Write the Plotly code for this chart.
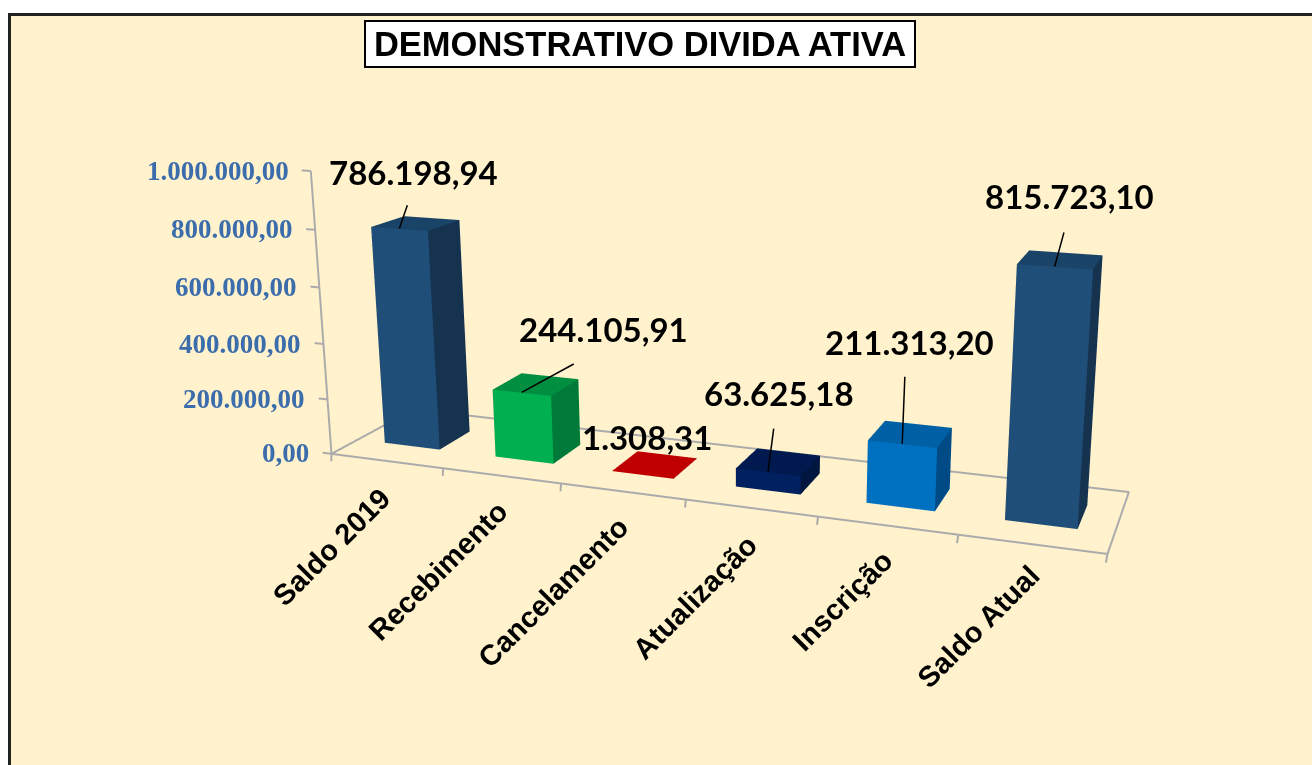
import plotly.graph_objects as go

categories = ["Saldo 2019", "Recebimento", "Cancelamento", "Atualização", "Inscrição", "Saldo Atual"]
values = [786198.94, 244105.91, 1308.31, 63625.18, 211313.20, 815723.10]
value_labels = ["786.198,94", "244.105,91", "1.308,31", "63.625,18", "211.313,20", "815.723,10"]
y_ticks = [0, 200000, 400000, 600000, 800000, 1000000]
y_tick_labels = ["0,00", "200.000,00", "400.000,00", "600.000,00", "800.000,00", "1.000.000,00"]

front_colors = ["#1F4E79", "#00B050", "#C00000", "#002060", "#0070C0", "#1F4E79"]
top_colors = ["#1A4368", "#008F41", "#C00000", "#001A50", "#0060A5", "#1A4368"]
side_colors = ["#15324F", "#007A38", "#8A0000", "#00163F", "#004B85", "#15324F"]

# text offsets in pixels, from each mark's anchor
label_shift = [(14, 57), (82, 63), (4, 37), (11, 79), (7, 102), (15, 70)]
leader = [(11, -32), (55, -30), None, (7, -53), (3, -77), (12, -44)]
cat_shift = [(13, -19), (15, -17), (15, -17), (15, -18), (14, -17), (16, -13)]

# view of the 3D scene
XR, YR, ZR = (-1.5, 7.5), (-0.5, 0.5), (-400000, 1500000)
F_PX, CX, CY = 660, 656, 420
EYE = dict(x=-0.01033, y=-1.21896, z=-0.02486)
CENTER = dict(x=-0.18965, y=-0.02371, z=-0.18553)
UP = dict(x=-0.11007, y=0.11618, z=0.98711)
ASPECT = dict(x=2.08437, y=0.14225, z=1)
BAR_W, BAR_D = 0.50176, 0.38987
SKEW_DEPTH_X, SKEW_DEPTH_Z, SKEW_VALUE_X = 0.38364, 0.15728, -0.24584
H = F_PX / 1.207
W = 2 * min(CX, 1312 - CX)


def zw(z, y):
    return z + SKEW_DEPTH_Z * 1e6 * (y + BAR_D / 2)


def xw(x, y, z=0):
    return x + SKEW_DEPTH_X * (y + 0.5) + SKEW_VALUE_X * z / 1e6


I = [0, 0, 4, 4, 0, 0, 1, 1, 2, 2, 3, 3]
J = [1, 2, 5, 6, 1, 5, 2, 6, 3, 7, 0, 4]
K = [2, 3, 6, 7, 5, 4, 6, 5, 7, 6, 4, 7]

fig = go.Figure()
for i, v in enumerate(values):
    x0, x1 = i - BAR_W / 2, i + BAR_W / 2
    y0, y1 = -BAR_D / 2, BAR_D / 2
    xs = [xw(x0, y0), xw(x1, y0), xw(x1, y1), xw(x0, y1)]
    xt = [xw(x0, y0, v), xw(x1, y0, v), xw(x1, y1, v), xw(x0, y1, v)]
    dz = zw(0, y1)
    fc = [top_colors[i]] * 4 + [front_colors[i]] * 2 + [side_colors[i]] * 2 + [top_colors[i]] * 2 + [side_colors[i]] * 2
    fig.add_trace(go.Mesh3d(x=xs + xt, y=[y0, y0, y1, y1] * 2, z=[0, 0, dz, dz, v, v, v + dz, v + dz],
                            i=I, j=J, k=K, facecolor=fc, flatshading=True, name=categories[i],
                            lighting=dict(ambient=1, diffuse=0, specular=0, roughness=1, fresnel=0), hoverinfo="skip"))

line = dict(color="#ABABAB", width=4)
fy = [-.5, -.5, .5, .5, -.5]
fx = [xw(-.5, -.5), xw(5.5, -.5), xw(5.5, .5), xw(-.5, .5), xw(-.5, -.5)]
fig.add_trace(go.Scatter3d(x=fx, y=fy, z=[zw(0, q) for q in fy], mode="lines", line=line, hoverinfo="skip"))
fig.add_trace(go.Scatter3d(x=[xw(-.5, -.5, 0), xw(-.5, -.5, y_ticks[-1])], y=[-.5, -.5],
                           z=[zw(0, -.5), zw(y_ticks[-1], -.5)], mode="lines", line=line, hoverinfo="skip"))
for t in y_ticks:
    fig.add_trace(go.Scatter3d(x=[xw(-.58, -.5, t), xw(-.5, -.5, t)], y=[-.5, -.5], z=[zw(t, -.5)] * 2,
                               mode="lines", line=line, hoverinfo="skip"))
for e in [i - .5 for i in range(len(categories) + 1)]:
    fig.add_trace(go.Scatter3d(x=[e, e], y=[-.5, -.5], z=[zw(0, -.5), zw(-28000, -.5)],
                               mode="lines", line=line, hoverinfo="skip"))

ann = []
for t, l in zip(y_ticks, y_tick_labels):
    ann.append(dict(x=xw(-.5, -.5, t), y=-.5, z=zw(t, -.5), text=f"<b>{l}</b>", showarrow=False,
                    xanchor="right", yanchor="middle", xshift=-20,
                    font=dict(family="Liberation Serif", size=27, color="#3B6CAB")))
for i, c in enumerate(categories):
    ann.append(dict(x=i, y=-.5, z=zw(0, -.5), text=f"<b>{c}</b>", showarrow=False, xanchor="right", yanchor="top",
                    xshift=cat_shift[i][0], yshift=cat_shift[i][1], textangle=-45,
                    font=dict(family="Liberation Sans", size=29, color="black")))
for i, (v, l) in enumerate(zip(values, value_labels)):
    xa = xw(i, -BAR_D / 2, v)
    ann.append(dict(x=xa, y=-BAR_D / 2, z=v, text=f"<b>{l}</b>", showarrow=False, xanchor="center", yanchor="middle",
                    xshift=label_shift[i][0], yshift=label_shift[i][1],
                    font=dict(family="Lato", size=33, color="black")))
    if leader[i]:
        ann.append(dict(x=xa, y=-BAR_D / 2, z=v, text=" ", showarrow=True, arrowhead=0, arrowwidth=1.5,
                        arrowcolor="black", standoff=0, ax=leader[i][0], ay=leader[i][1]))

fig.add_annotation(xref="paper", yref="paper", x=639.5 / 1312, y=1 - 44 / 765, xanchor="center", yanchor="middle",
                   text="<b>DEMONSTRATIVO DIVIDA ATIVA</b>", showarrow=False, width=546, height=42,
                   font=dict(family="Liberation Sans", size=34.5, color="black"),
                   bgcolor="white", bordercolor="black", borderwidth=2, borderpad=1)
fig.update_layout(
    width=1312, height=765, paper_bgcolor="white", margin=dict(l=0, r=0, t=0, b=0), showlegend=False,
    shapes=[dict(type="rect", xref="paper", yref="paper", x0=9.5 / 1312, x1=1.01, y0=-.01, y1=1 - 14.5 / 765,
                 fillcolor="#FFF2CC", line=dict(color="#222222", width=3), layer="below")],
    scene=dict(
        domain=dict(x=[(CX - W / 2) / 1312, (CX + W / 2) / 1312], y=[1 - (CY + H / 2) / 765, 1 - (CY - H / 2) / 765]),
        aspectmode="manual", aspectratio=ASPECT,
        camera=dict(eye=EYE, center=CENTER, up=UP),
        xaxis=dict(visible=False, range=list(XR)),
        yaxis=dict(visible=False, range=list(YR)),
        zaxis=dict(visible=False, range=list(ZR)),
        annotations=ann))
fig.write_html("out.html", post_script="document.body.style.margin='0';", config=dict(displayModeBar=False))
